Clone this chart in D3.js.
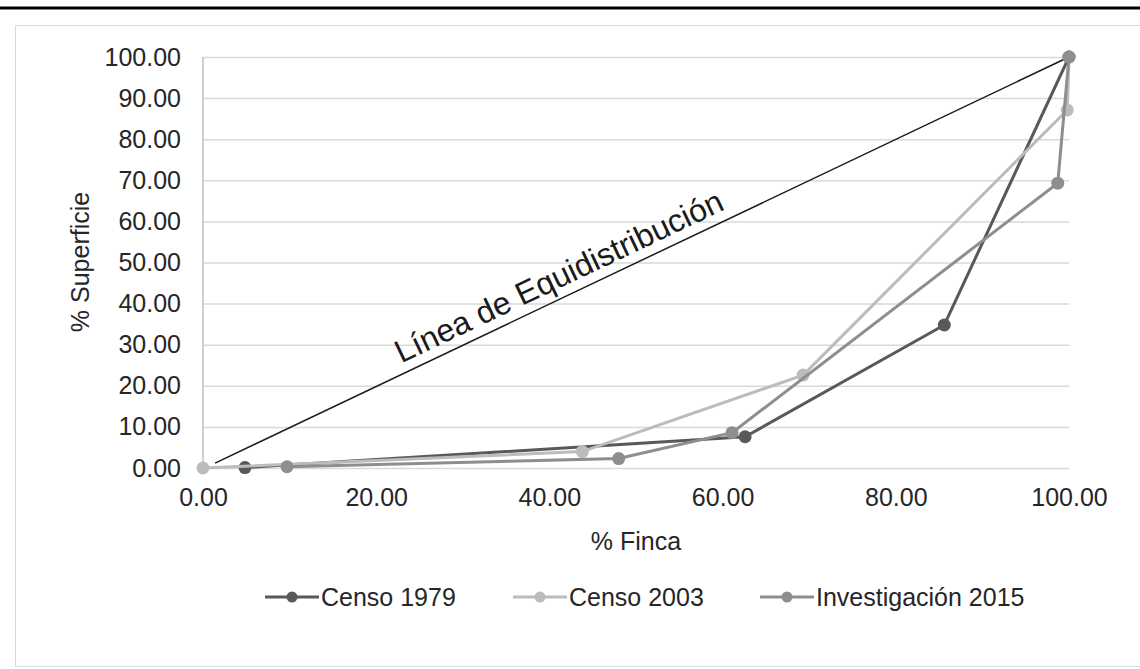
<!DOCTYPE html>
<html>
<head>
<meta charset="utf-8">
<script src="https://cdnjs.cloudflare.com/ajax/libs/d3/7.8.5/d3.min.js"></script>
<style>
  body { margin: 0; background: #fff; }
  svg { font-family: "Liberation Sans", Arial, sans-serif; }
</style>
</head>
<body>
<div id="chart"></div>
<script>
// data
let seriesNames = ["Censo 1979", "Censo 2003", "Investigación 2015"];
let finca1979 = [4.85, 62.6, 85.6, 100];
let sup1979 = [0.1, 7.6, 34.8, 100];
let finca2003 = [0, 43.8, 69.3, 99.8, 100];
let sup2003 = [0, 4.0, 22.6, 87.1, 100];
let finca2015 = [9.7, 48.0, 61.1, 98.7, 100];
let sup2015 = [0.3, 2.3, 8.6, 69.3, 100];
let equiLine = [[1.4, 1.2], [100, 100]];
let xTicks = [0, 20, 40, 60, 80, 100];
let yTicks = [0, 10, 20, 30, 40, 50, 60, 70, 80, 90, 100];
let colors = ["#595959", "#bcbcbc", "#8e8e8e"];

const W = 1140, H = 669;
let margin = {top: 57, right: 71, bottom: 201, left: 203},
    width = W - margin.left - margin.right,
    height = H - margin.top - margin.bottom;
let fs = 25;

let svg = d3.select("#chart").append("svg")
    .attr("width", W)
    .attr("height", H);

// header rule and chart frame
svg.append("line")
    .attr("x1", 0).attr("x2", W)
    .attr("y1", 8).attr("y2", 8)
    .attr("stroke", "#000").attr("stroke-width", 3);
svg.append("rect")
    .attr("x", 15.5).attr("y", 25.5)
    .attr("width", W + 10).attr("height", 641)
    .attr("fill", "none").attr("stroke", "#d9d9d9");

let x = d3.scaleLinear().domain([0, 100]).range([0, width]);
let y = d3.scaleLinear().domain([0, 100]).range([height, 0]);

let g = svg.append("g")
    .attr("transform", "translate(" + margin.left + "," + margin.top + ")");

// gridlines
g.append("g")
    .call(d3.axisLeft(y).tickValues(yTicks).tickSize(-width).tickFormat(""))
    .call(a => a.select(".domain").remove())
    .selectAll("line").attr("stroke", "#d9d9d9").attr("stroke-width", 1.5);

// y axis line
g.append("line")
    .attr("x1", 0).attr("x2", 0)
    .attr("y1", y(100)).attr("y2", y(0))
    .attr("stroke", "#bfbfbf").attr("stroke-width", 1.5);

// tick labels
g.append("g")
    .call(d3.axisLeft(y).tickValues(yTicks).tickSize(0).tickPadding(22).tickFormat(d3.format(".2f")))
    .call(a => a.select(".domain").remove())
    .selectAll("text")
      .attr("font-size", fs).attr("fill", "#262626")
      .attr("font-family", "Liberation Sans, Arial, sans-serif");

g.append("g")
    .attr("transform", "translate(0," + height + ")")
    .call(d3.axisBottom(x).tickValues(xTicks).tickSize(0).tickPadding(20).tickFormat(d3.format(".2f")))
    .call(a => a.select(".domain").remove())
    .selectAll("text")
      .attr("font-size", fs).attr("fill", "#262626")
      .attr("font-family", "Liberation Sans, Arial, sans-serif");

// axis titles
svg.append("text")
    .attr("transform", "translate(89,262) rotate(-90)")
    .attr("text-anchor", "middle")
    .attr("font-size", fs).attr("fill", "#262626")
    .text("% Superficie");
svg.append("text")
    .attr("x", margin.left + width / 2).attr("y", 550)
    .attr("text-anchor", "middle")
    .attr("font-size", fs).attr("fill", "#262626")
    .text("% Finca");

// equidistribution line
g.append("line")
    .attr("x1", x(equiLine[0][0])).attr("y1", y(equiLine[0][1]))
    .attr("x2", x(equiLine[1][0])).attr("y2", y(equiLine[1][1]))
    .attr("stroke", "#1a1a1a").attr("stroke-width", 1.5);

let ang = Math.atan2(y(equiLine[1][1]) - y(equiLine[0][1]), x(equiLine[1][0]) - x(equiLine[0][0])) * 180 / Math.PI;
let lx = 23.4;
let tx = x(lx), ty = y(equiLine[0][1] + (lx - equiLine[0][0]) * (equiLine[1][1] - equiLine[0][1]) / (equiLine[1][0] - equiLine[0][0]));
g.append("text")
    .attr("transform", "translate(" + tx + "," + ty + ") rotate(" + ang + ") translate(0,-10)")
    .attr("text-anchor", "start")
    .attr("font-size", 32).attr("fill", "#1a1a1a")
    .text("Línea de Equidistribución");

// series
let series = [
  {name: seriesNames[0], xs: finca1979, ys: sup1979, color: colors[0]},
  {name: seriesNames[1], xs: finca2003, ys: sup2003, color: colors[1]},
  {name: seriesNames[2], xs: finca2015, ys: sup2015, color: colors[2]}
];

let line = d3.line().x(d => x(d[0])).y(d => y(d[1]));

series.forEach(s => {
  let pts = s.xs.map((v, i) => [v, s.ys[i]]);
  g.append("path")
      .datum(pts)
      .attr("d", line)
      .attr("fill", "none")
      .attr("stroke", s.color)
      .attr("stroke-width", 3);
  g.selectAll(null)
      .data(pts)
    .enter()
      .append("circle")
      .attr("cx", d => x(d[0]))
      .attr("cy", d => y(d[1]))
      .attr("r", 6.5)
      .attr("fill", s.color);
});

// legend
let legendX = [265, 513, 760];
let legend = svg.append("g").attr("transform", "translate(0,597)");
series.forEach((s, i) => {
  let lg = legend.append("g").attr("transform", "translate(" + legendX[i] + ",0)");
  lg.append("line")
      .attr("x1", 0).attr("x2", 54)
      .attr("stroke", s.color).attr("stroke-width", 3);
  lg.append("circle").attr("cx", 27).attr("r", 5.5).attr("fill", s.color);
  lg.append("text")
      .attr("x", 56).attr("dy", "0.35em")
      .attr("font-size", fs).attr("fill", "#262626")
      .text(s.name);
});
</script>
</body>
</html>
